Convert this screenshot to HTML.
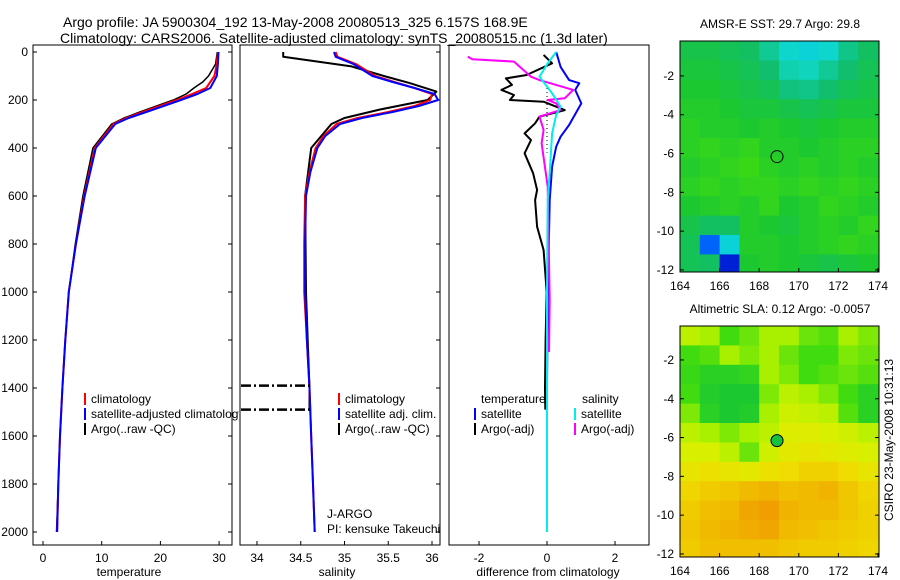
<!DOCTYPE html>
<html><head><meta charset="utf-8">
<style>
html,body{margin:0;padding:0;background:#fff;}
svg{display:block;font-family:"Liberation Sans",sans-serif;}
text{font-size:12px;fill:#000;}
</style></head>
<body>
<svg id="fig" width="900" height="580" viewBox="0 0 900 580" xmlns="http://www.w3.org/2000/svg">
<defs><clipPath id="c1"><rect x="33" y="45" width="206" height="500"/></clipPath></defs>
<text x="63" y="27" style="font-size:14px">Argo profile: JA 5900304_192 13-May-2008 20080513_325 6.157S 168.9E</text>
<text x="60" y="43" style="font-size:14px">Climatology: CARS2006. Satellite-adjusted climatology: synTS_20080515.nc (1.3d later)</text>
<g id="g"></g>
</svg>
<script>
// ---------- data ----------
const depthTicks=[0,200,400,600,800,1000,1200,1400,1600,1800,2000];
const tempTicks=[0,10,20,30];
const salTicks=[34,34.5,35,35.5,36];
const diffTicks=[-2,0,2];
const latTicks=[-2,-4,-6,-8,-10,-12];
const lonTicks=[164,166,168,170,172,174];

const tClimDepth=[0,50,100,150,175,200,250,275,300,400,600,800,1000,1200,1400,1600,1800,2000];
const tClim=[29.8,29.6,29.2,27.8,25.4,22.8,17,14.2,12,8.8,7,5.6,4.4,3.8,3.3,2.9,2.6,2.4];
const tSat=[29.9,29.8,29.6,28.5,26.3,23.5,17.6,14.6,12.3,9.0,7.1,5.6,4.4,3.8,3.3,2.9,2.6,2.4];
const tArgoDepth=[0,50,100,125,150,175,200,250,275,300,400,600,800,1000,1200,1400,1600,1800,2000];
const tArgo=[29.7,29.4,28.2,27.2,25.7,24.4,22.2,16.5,13.8,11.7,8.5,6.8,5.5,4.4,3.8,3.3,2.9,2.6,2.3];

const sDepth=[0,20,50,100,125,150,175,200,225,250,275,300,350,400,500,600,800,1000,1200,1400,1600,1800,2000];
const sClim=[34.9,34.92,35.13,35.35,35.57,35.8,36.0,35.98,35.8,35.5,35.15,34.91,34.76,34.67,34.6,34.55,34.54,34.54,34.57,34.6,34.62,34.64,34.66];
const sSat=[34.88,34.9,35.1,35.32,35.55,35.8,36.03,36.07,35.85,35.55,35.2,34.95,34.78,34.69,34.61,34.56,34.55,34.55,34.57,34.6,34.62,34.64,34.66];
const sArgoDepth=[0,20,60,100,130,165,200,240,275,300,400,600,1000,1200,1400,1490];
const sArgo=[34.3,34.3,35.08,35.45,35.75,36.05,35.95,35.4,35.0,34.85,34.62,34.55,34.56,34.58,34.6,34.6];

const dTSatDepth=[0,62,117,130,158,214,304,353,394,478,617,1033,1400,1800];
const dTSat=[0.27,0.4,0.65,0.95,0.83,1.01,0.65,0.4,0.27,0.15,0.08,0.02,0.0,0.0];
const dTArgoDepth=[12,47,96,110,137,158,179,200,207,242,269,297,339,367,422,505,575,617,728,825,1000,1200,1400,1490];
const dTArgo=[-0.1,0.15,-0.6,-1.21,-1.03,-1.34,-0.97,-1.09,-0.1,0.52,-0.22,-0.35,-0.66,-0.47,-0.66,-0.41,-0.29,-0.35,-0.29,-0.1,-0.01,-0.04,-0.06,-0.05];
const dSSatDepth=[0,47,103,172,228,262,339,478,617,1000,1500,2000];
const dSSat=[0.27,0.02,-0.22,0.15,0.4,0.27,0.15,0.09,0.02,0.0,0.0,0.0];
const dSArgoDepth=[19,30,40,103,117,158,193,200,214,242,269,325,380,561,1033,1250];
const dSArgo=[-2.33,-2.2,-0.97,-0.47,-0.22,0.77,0.52,0.02,0.27,0.4,-0.22,-0.1,-0.16,0.02,0.08,0.06];

const sstGrid=[
[0.48,0.48,0.47,0.46,0.42,0.37,0.35,0.37,0.43,0.46],
[0.49,0.49,0.48,0.47,0.45,0.40,0.39,0.42,0.45,0.47],
[0.50,0.50,0.49,0.48,0.47,0.44,0.43,0.45,0.47,0.48],
[0.51,0.51,0.50,0.49,0.49,0.48,0.47,0.48,0.49,0.49],
[0.52,0.51,0.51,0.50,0.51,0.50,0.49,0.50,0.51,0.51],
[0.52,0.53,0.52,0.53,0.51,0.51,0.50,0.51,0.52,0.52],
[0.51,0.52,0.53,0.54,0.52,0.51,0.52,0.51,0.52,0.51],
[0.52,0.53,0.52,0.53,0.53,0.52,0.53,0.52,0.53,0.52],
[0.50,0.51,0.52,0.51,0.53,0.50,0.51,0.53,0.52,0.51],
[0.48,0.46,0.46,0.51,0.50,0.49,0.51,0.52,0.51,0.53],
[0.47,0.20,0.35,0.51,0.51,0.50,0.51,0.52,0.53,0.52],
[0.47,0.46,0.10,0.50,0.51,0.50,0.49,0.48,0.49,0.50]];
const slaGrid=[
[0.62,0.60,0.55,0.57,0.60,0.60,0.57,0.56,0.60,0.58],
[0.55,0.56,0.60,0.58,0.60,0.57,0.55,0.55,0.58,0.57],
[0.54,0.52,0.52,0.53,0.60,0.58,0.55,0.56,0.57,0.56],
[0.55,0.51,0.50,0.50,0.58,0.62,0.60,0.58,0.55,0.52],
[0.58,0.52,0.50,0.51,0.60,0.64,0.63,0.62,0.56,0.52],
[0.62,0.60,0.58,0.60,0.62,0.66,0.66,0.65,0.64,0.62],
[0.65,0.65,0.62,0.57,0.64,0.67,0.68,0.67,0.66,0.65],
[0.68,0.69,0.68,0.67,0.69,0.70,0.72,0.72,0.70,0.68],
[0.71,0.73,0.74,0.76,0.77,0.75,0.76,0.77,0.74,0.71],
[0.73,0.75,0.76,0.79,0.81,0.77,0.76,0.76,0.74,0.72],
[0.74,0.76,0.77,0.78,0.79,0.76,0.75,0.74,0.73,0.72],
[0.73,0.75,0.75,0.75,0.75,0.74,0.73,0.73,0.72,0.71]];

// ---------- helpers ----------
const NS="http://www.w3.org/2000/svg";
const G=document.getElementById('g');
function mk(tag,attrs,parent){const e=document.createElementNS(NS,tag);for(const k in attrs)e.setAttribute(k,attrs[k]);(parent||G).appendChild(e);return e;}
const yD=d=>52+d*0.24;
const xT=t=>43+t*5.87;
const xS=s=>257+(s-34)*87.5;
const xDf=v=>547+v*34;
function line(xs,ds,xf,color,w,name){
  const p=xs.map((v,i)=>xf(v).toFixed(1)+','+yD(ds[i]).toFixed(1)).join(' ');
  const e=mk('polyline',{points:p,fill:'none',stroke:color,'stroke-width':w,'stroke-linejoin':'round'});
  
  
}
function txt(x,y,s,anchor,name,extra,parent){
  const e=mk('text',Object.assign({x:x,y:y,'text-anchor':anchor||'start'},extra||{}),parent);e.textContent=s;
  
  
  return e;
}
function frame(x0,x1,name){
  const e=mk('rect',{x:x0,y:45,width:x1-x0,height:500,fill:'none',stroke:'#000','stroke-width':1});
  
  
}
// ---------- frames ----------
frame(33,232,'temperature-panel-frame');
frame(240,440,'salinity-panel-frame');
frame(449,649,'difference-panel-frame');
depthTicks.forEach(d=>{
  txt(28,yD(d)+4,String(d),'end','depth-tick-label');
  mk('line',{x1:33,x2:37,y1:yD(d),y2:yD(d),stroke:'#000'});
  mk('line',{x1:228,x2:232,y1:yD(d),y2:yD(d),stroke:'#000'});
  mk('line',{x1:436,x2:440,y1:yD(d),y2:yD(d),stroke:'#000'});
});
tempTicks.forEach(t=>{txt(xT(t),562,String(t),'middle','temperature-tick-label');mk('line',{x1:xT(t),x2:xT(t),y1:545,y2:541,stroke:'#000'});});
salTicks.forEach(s=>{txt(xS(s),562,String(s),'middle','salinity-tick-label');mk('line',{x1:xS(s),x2:xS(s),y1:545,y2:541,stroke:'#000'});});
diffTicks.forEach(v=>{txt(xDf(v),562,String(v),'middle','difference-tick-label');mk('line',{x1:xDf(v),x2:xDf(v),y1:545,y2:541,stroke:'#000'});});
txt(129,576,'temperature','middle','temperature-axis-title');
txt(337,576,'salinity','middle','salinity-axis-title');
txt(548,576,'difference from climatology','middle','difference-axis-title');

// ---------- profiles ----------
line(tArgo,tArgoDepth,xT,'#000',1.5,'temperature-argo-line');
line(tClim,tClimDepth,xT,'#f00',2,'temperature-climatology-line');
line(tSat,tClimDepth,xT,'#00f',2,'temperature-satellite-line');
line(sArgo,sArgoDepth,xS,'#000',2,'salinity-argo-line');
line(sClim,sDepth,xS,'#f00',2,'salinity-climatology-line');
line(sSat,sDepth,xS,'#00f',2,'salinity-satellite-line');
[1390,1490].forEach(d=>{const e=mk('line',{x1:241,x2:310,y1:yD(d),y2:yD(d),stroke:'#000','stroke-width':2.5,'stroke-dasharray':'10,3,2,3'});

});
mk('line',{x1:xDf(0),x2:xDf(0),y1:yD(150),y2:yD(420),stroke:'#000','stroke-dasharray':'1,3'});
line(dTArgo,dTArgoDepth,xDf,'#000',2,'diff-temperature-argo-line');
line(dTSat,dTSatDepth,xDf,'#00f',2,'diff-temperature-satellite-line');
line(dSArgo,dSArgoDepth,xDf,'#f0f',2,'diff-salinity-argo-line');
line(dSSat,dSSatDepth,xDf,'#0ee',2,'diff-salinity-satellite-line');

// ---------- legends ----------
const clipG=mk('g',{'clip-path':'url(#c1)'});
function leg(x,y,c,s,name,parent){const b=mk('rect',{x:x,y:y-10,width:2,height:12,fill:c},parent);txt(x+7,y,s,'start',name,null,parent);}
leg(84,403,'#f00','climatology','legend-temp-climatology',clipG);
leg(84,418,'#00f','satellite-adjusted climatology','legend-temp-satellite',clipG);
leg(84,433,'#000','Argo(..raw -QC)','legend-temp-argo',clipG);
leg(338,403,'#f00','climatology','legend-sal-climatology');
leg(338,418,'#00f','satellite adj. clim.','legend-sal-satellite');
leg(338,433,'#000','Argo(..raw -QC)','legend-sal-argo');
txt(481,403,'temperature','start','legend-diff-temperature-header');
txt(582,403,'salinity','start','legend-diff-salinity-header');
leg(474,418,'#00f','satellite','legend-diff-temp-satellite');
leg(474,433,'#000','Argo(-adj)','legend-diff-temp-argo');
leg(574,418,'#0ee','satellite','legend-diff-sal-satellite');
leg(574,433,'#f0f','Argo(-adj)','legend-diff-sal-argo');
txt(327,518,'J-ARGO','start','float-program-label');
txt(327,533,'PI: kensuke Takeuchi','start','float-pi-label');

// ---------- maps ----------
const stops=[[0,[0,0,128]],[0.15,[0,48,255]],[0.3,[0,200,240]],[0.38,[16,216,200]],[0.45,[16,190,110]],[0.5,[28,200,48]],[0.55,[64,220,16]],[0.6,[168,240,0]],[0.65,[216,240,0]],[0.7,[240,220,0]],[0.75,[240,192,0]],[0.8,[240,160,0]],[1,[240,120,0]]];
function cmap(v){for(let i=1;i<stops.length;i++){if(v<=stops[i][0]){const a=stops[i-1],b=stops[i],f=(v-a[0])/(b[0]-a[0]);const c=a[1].map((q,j)=>Math.round(q+(b[1][j]-q)*f));return 'rgb('+c.join(',')+')';}}return 'rgb(240,120,0)';}
const xL=lon=>680+(lon-164)*19.8;
function map(grid,yTop,latTop,title,name){
  const yLat=lat=>yTop+(latTop-lat)*19.4;
  grid.forEach((row,r)=>row.forEach((v,c)=>{
    const x0=xL(164+c),x1=xL(165+c),y0=yLat(latTop-r),y1=Math.min(yLat(latTop-r-1),yTop+231);
    const e=mk('rect',{x:x0.toFixed(1),y:y0.toFixed(1),width:(x1-x0+0.5).toFixed(1),height:(y1-y0+0.5).toFixed(1),fill:cmap(v)});
    
    
  }));
  const f=mk('rect',{x:680,y:yTop,width:199,height:231,fill:'none',stroke:'#000'});
  
  
  latTicks.forEach(l=>{txt(674,yLat(l)+4,String(l),'end',name+'-lat-label');mk('line',{x1:680,x2:684,y1:yLat(l),y2:yLat(l),stroke:'#000'});mk('line',{x1:875,x2:879,y1:yLat(l),y2:yLat(l),stroke:'#000'});});
  lonTicks.forEach(l=>{txt(xL(l),yTop+249,String(l),'middle',name+'-lon-label');mk('line',{x1:xL(l),x2:xL(l),y1:yTop+231,y2:yTop+227,stroke:'#000'});});
  txt(780,yTop-13,title,'middle',name+'-title');
  const c=mk('circle',{cx:xL(168.9),cy:yLat(-6.157),r:6,fill:name==='sla-map'?'#18c040':'none',stroke:'#000'});
  
  
}
map(sstGrid,41,-0.2,'AMSR-E SST: 29.7 Argo: 29.8','sst-map');
map(slaGrid,326,-0.25,'Altimetric SLA: 0.12 Argo: -0.0057','sla-map');
txt(0,0,'CSIRO 23-May-2008 10:31:13','middle','timestamp-label',{transform:'translate(893,440) rotate(-90)'});
</script>
</body></html>
